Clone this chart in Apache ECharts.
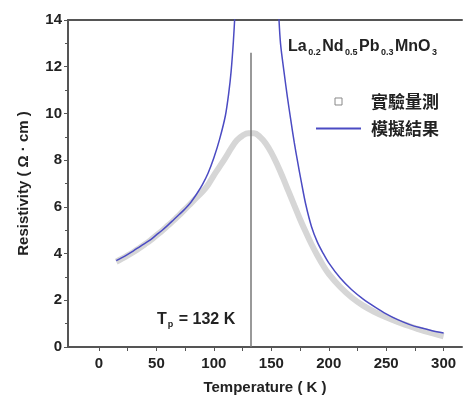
<!DOCTYPE html>
<html>
<head>
<meta charset="utf-8">
<script src="https://cdn.jsdelivr.net/npm/echarts@6/dist/echarts.min.js"></script>
<style>
  html, body { margin: 0; padding: 0; background: #fff; }
  #chart { width: 463px; height: 401px; }
</style>
</head>
<body>
<div id="chart"></div>
<script>
// measured data (gray band)
const tempExp = [15, 20, 25, 30, 35, 40, 45, 50, 55, 60, 65, 70, 75, 80, 85, 90, 95, 100, 105, 110, 115, 120, 125, 130, 135, 140, 145, 150, 155, 160, 165, 170, 175, 180, 185, 190, 195, 200, 210, 220, 230, 240, 250, 260, 270, 280, 290, 300];
const resExp = [3.65, 3.78, 3.92, 4.07, 4.23, 4.4, 4.58, 4.78, 4.98, 5.2, 5.42, 5.66, 5.9, 6.15, 6.4, 6.65, 6.95, 7.35, 7.72, 8.1, 8.5, 8.85, 9.05, 9.15, 9.15, 9.0, 8.72, 8.32, 7.82, 7.26, 6.66, 6.06, 5.47, 4.92, 4.4, 3.93, 3.5, 3.13, 2.57, 2.12, 1.77, 1.5, 1.27, 1.07, 0.9, 0.73, 0.59, 0.46];

// simulation (blue line), diverges near Tp
const tempSim = [15, 20, 25, 30, 35, 40, 45, 50, 55, 60, 65, 70, 75, 80, 85, 90, 95, 100, 105, 110, 113, 115, 117, 118.5, 136, 156.5, 158, 161, 164, 167, 170, 173, 176, 180, 185, 190, 195, 200, 210, 220, 230, 240, 250, 260, 270, 280, 290, 300];
const resSim = [3.7, 3.83, 3.97, 4.12, 4.28, 4.44, 4.6, 4.8, 5.0, 5.22, 5.45, 5.68, 5.92, 6.2, 6.55, 6.95, 7.45, 8.1, 8.9, 9.9, 10.9, 11.8, 13.1, 14.4, null, 14.2, 13.0, 11.8, 10.7, 9.7, 8.75, 7.9, 7.1, 6.1, 5.15, 4.5, 4.02, 3.6, 2.95, 2.45, 2.05, 1.72, 1.42, 1.17, 0.97, 0.82, 0.7, 0.6];

const xTicks = [0, 25, 50, 75, 100, 125, 150, 175, 200, 225, 250, 275, 300];
const xLabels = [0, 50, 100, 150, 200, 250, 300];
const tp = 132;
const tpTop = 12.6;

const zip = (a, b) => a.map((v, i) => [v, b[i]]);

const chart = echarts.init(document.getElementById('chart'));
const font = 'Liberation Sans, Arial, sans-serif';
const axisColor = '#555';

const option = {
  backgroundColor: '#fff',
  animation: false,
  grid: { left: 68, top: 20, right: 1, bottom: 54 },
  legend: {
    orient: 'vertical',
    left: 310,
    top: 88,
    itemWidth: 45,
    itemHeight: 7,
    itemGap: 10,
    symbolKeepAspect: true,
    textStyle: { fontFamily: 'Noto Sans CJK TC', fontWeight: 'bold', fontSize: 17, color: '#222', padding: [0, 0, 0, 5] },
    data: [
      {
        name: '實驗量測',
        icon: 'path://M0,0H10V10H0Z',
        itemStyle: { color: '#fff', borderColor: '#888', borderWidth: 1 }
      },
      {
        name: '模擬結果',
        itemStyle: { opacity: 0 }
      }
    ]
  },
  xAxis: [
    {
      type: 'value',
      min: -27,
      max: 316,
      name: 'Temperature ( K )',
      nameLocation: 'middle',
      nameGap: 33,
      nameTextStyle: { fontFamily: font, fontWeight: 'bold', fontSize: 15, color: '#222' },
      axisLine: { onZero: false, lineStyle: { color: axisColor, width: 2 } },
      axisTick: { customValues: xTicks, length: 4, lineStyle: { color: axisColor } },
      axisLabel: { customValues: xLabels, margin: 9, fontFamily: font, fontWeight: 'bold', fontSize: 15, color: '#222' },
      splitLine: { show: false }
    },
    {
      type: 'value',
      position: 'top',
      min: -27,
      max: 316,
      axisLine: { show: true, onZero: false, lineStyle: { color: axisColor, width: 2 } },
      axisTick: { show: false },
      axisLabel: { show: false },
      splitLine: { show: false }
    }
  ],
  yAxis: {
    type: 'value',
    min: 0,
    max: 14,
    interval: 2,
    name: 'Resistivity ( Ω · cm )',
    nameLocation: 'middle',
    nameGap: 37,
    nameTextStyle: { fontFamily: font, fontWeight: 'bold', fontSize: 15, color: '#222' },
    axisLine: { show: true, onZero: false, lineStyle: { color: axisColor, width: 2 } },
    axisTick: { length: 4, lineStyle: { color: axisColor } },
    minorTick: { show: true, splitNumber: 2, length: 3, lineStyle: { color: axisColor } },
    axisLabel: { margin: 6, fontFamily: font, fontWeight: 'bold', fontSize: 15, color: '#222' },
    splitLine: { show: false }
  },
  series: [
    {
      name: '實驗量測',
      type: 'line',
      data: zip(tempExp, resExp),
      smooth: 0.4,
      symbol: 'none',
      color: '#8a8a8a',
      lineStyle: { color: '#d6d6d6', width: 6 },
      z: 2
    },
    {
      name: '模擬結果',
      type: 'line',
      data: zip(tempSim, resSim),
      smooth: 0.3,
      connectNulls: false,
      symbol: 'none',
      color: '#4b4bc3',
      lineStyle: { color: '#4b4bc3', width: 1.5 },
      z: 3,
      markLine: {
        silent: true,
        symbol: 'none',
        label: { show: false },
        lineStyle: { color: '#777', width: 1.5, type: 'solid' },
        data: [[{ coord: [tp, 0] }, { coord: [tp, tpTop] }]]
      }
    }
  ],
  graphic: [
    {
      type: 'text',
      left: 288,
      top: 39,
      style: {
        text: '{m|La}{s|0.2}{m|Nd}{s|0.5}{m|Pb}{s|0.3}{m|MnO}{s|3}',
        rich: {
          m: { fontFamily: font, fontWeight: 'bold', fontSize: 16, fill: '#222' },
          s: { fontFamily: font, fontWeight: 'bold', fontSize: 9, fill: '#222', padding: [12, 1.5, 0, 1.5] }
        }
      }
    },
    {
      type: 'text',
      left: 157,
      top: 312,
      style: {
        text: '{m|T}{s|p}{m| = 132 K}',
        rich: {
          m: { fontFamily: font, fontWeight: 'bold', fontSize: 16, fill: '#222' },
          s: { fontFamily: font, fontWeight: 'bold', fontSize: 9, fill: '#222', padding: [10, 1, 0, 1] }
        }
      }
    }
  ]
};

chart.setOption(option);
</script>
</body>
</html>
